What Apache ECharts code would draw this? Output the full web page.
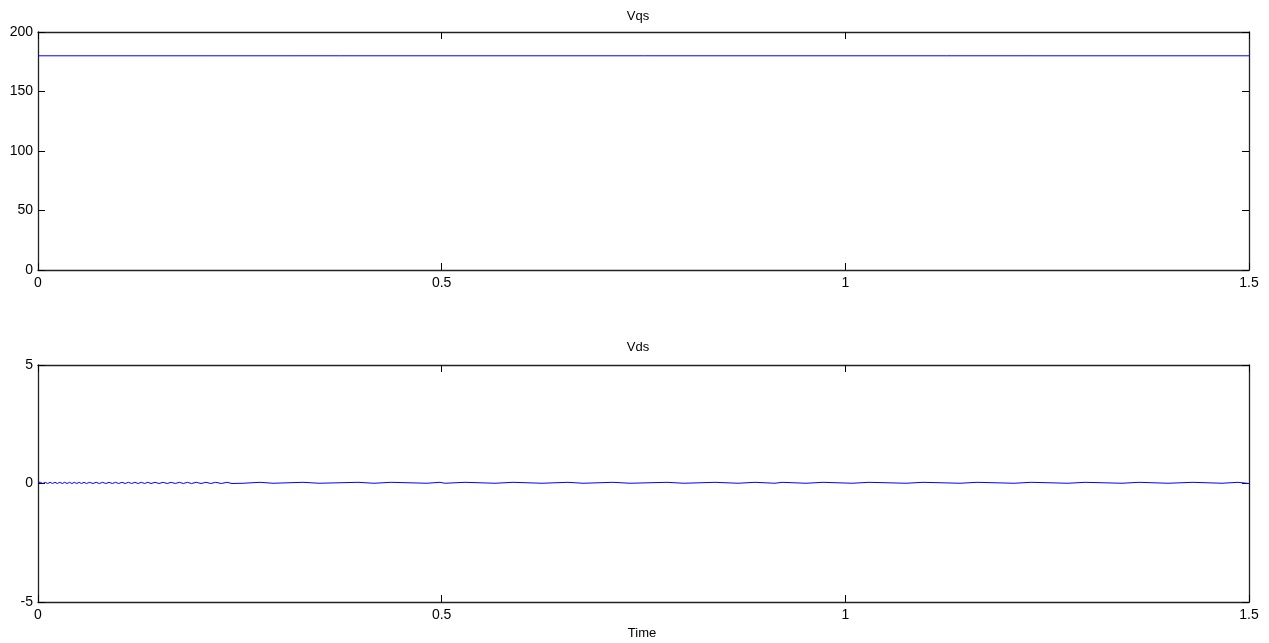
<!DOCTYPE html>
<html>
<head>
<meta charset="utf-8">
<script src="https://cdn.jsdelivr.net/npm/echarts@6/dist/echarts.min.js"></script>
<style>
html,body{margin:0;padding:0;background:#fff;}
#c{width:1269px;height:643px;}
</style>
</head>
<body>
<div id="c"></div>
<script>
// ---- data ----
var xTicks = [0, 0.5, 1, 1.5];
var vqsTime = [0, 1.5];
var vqsValue = [180, 180];

// early ripple of Vds (time, value)
var rippleTime = [0,0.003,0.006,0.009,0.012,0.015,0.018,0.021,0.024,0.027,0.030,0.033,0.036,0.039,0.042,0.045,0.048,0.051,0.054,0.057,
  0.060,0.064,0.068,0.072,0.076,0.080,0.084,0.088,0.092,0.096,0.100,0.104,0.108,0.112,0.116,0.120,0.124,0.128,0.132,0.136,
  0.140,0.145,0.150,0.155,0.160,0.165,0.170,0.175,0.180,0.185,0.190,0.196,0.202,0.208,0.214,0.220,0.227,0.234];
var rippleValue = [0.05,0.0,0.05,0.0,0.05,0.0,0.05,0.0,0.05,0.0,0.05,0.0,0.05,0.0,0.05,0.0,0.05,0.0,0.05,0.0,
  0.05,0.0,0.05,0.0,0.05,0.0,0.05,0.0,0.05,0.0,0.05,0.0,0.05,0.0,0.05,0.0,0.05,0.0,0.05,0.0,
  0.05,0.0,0.05,0.0,0.05,0.0,0.05,0.0,0.05,0.0,0.05,0.0,0.05,0.0,0.05,0.0,0.05,0.0];

// later slow switching of Vds (time, value)
var vdsTime = [0.2403,0.2539,0.2750,0.2911,0.3282,0.3481,0.3964,0.4162,0.4372,0.4818,0.4979,0.5041,0.5289,0.5661,0.5884,
  0.6243,0.6565,0.6751,0.7122,0.7333,0.7791,0.8002,0.8386,0.8671,0.8881,0.9129,0.9216,0.9513,0.9723,1.0083,1.0293,
  1.0752,1.0962,1.1420,1.1631,1.2089,1.2300,1.2758,1.2969,1.3427,1.3638,1.3997,1.4307,1.4666,1.4864,1.5];
var vdsValue = [0.01,0.05,0.01,0.05,0.01,0.05,0.01,0.05,0.01,0.05,0.01,0.05,0.01,0.05,0.01,
  0.05,0.01,0.05,0.01,0.05,0.01,0.05,0.01,0.05,0.01,0.05,0.01,0.05,0.01,0.05,0.01,
  0.05,0.01,0.05,0.01,0.05,0.01,0.05,0.01,0.05,0.01,0.05,0.01,0.05,0.0,0.0];

// ---- build ----
function pairs(t, v){ return t.map(function(x,i){ return [x, v[i]]; }); }
var vdsData = pairs(rippleTime, rippleValue).concat(pairs(vdsTime, vdsValue));

var FONT = 'Liberation Sans';
var axisLine = {show:true, onZero:false, lineStyle:{color:'#222', width:1.3}};
function xAx(grid, pos, labels){
  return {type:'value', gridIndex:grid, position:pos, min:0, max:1.5, interval:0.5,
    axisLine:axisLine, axisTick:{show:true, inside:true, length:7, lineStyle:{color:'#000'}},
    axisLabel:{show:labels, color:'#000', fontFamily:FONT, fontSize:14, margin:6,
      formatter:function(v){ return String(v); }},
    splitLine:{show:false}};
}
function yAx(grid, pos, labels, min, max, interval){
  return {type:'value', gridIndex:grid, position:pos, min:min, max:max, interval:interval,
    axisLine:axisLine, axisTick:{show:true, inside:true, length:7, lineStyle:{color:'#000'}},
    axisLabel:{show:labels, color:'#000', fontFamily:FONT, fontSize:14, margin:5},
    splitLine:{show:false}};
}

var chart = echarts.init(document.getElementById('c'), null, {renderer:'canvas'});
var ts = {fontFamily:FONT, fontSize:13, fontWeight:'normal', color:'#000'};
chart.setOption({
  animation:false,
  backgroundColor:'#fff',
  title:[
    {text:'Vqs', left:638, top:10, textAlign:'center', padding:0, textStyle:ts},
    {text:'Vds', left:638, top:341, textAlign:'center', padding:0, textStyle:ts},
    {text:'Time', left:642, top:627, textAlign:'center', padding:0, textStyle:ts}
  ],
  grid:[
    {left:38, right:20, top:32, height:238},
    {left:38, right:20, top:365, height:237}
  ],
  xAxis:[xAx(0,'bottom',true), xAx(0,'top',false), xAx(1,'bottom',true), xAx(1,'top',false)],
  yAxis:[yAx(0,'left',true,0,200,50), yAx(0,'right',false,0,200,50),
         yAx(1,'left',true,-5,5,5), yAx(1,'right',false,-5,5,5)],
  series:[
    {type:'line', xAxisIndex:0, yAxisIndex:0, data:pairs(vqsTime, vqsValue), showSymbol:false,
      lineStyle:{color:'#0000ff', width:1}},
    {type:'line', xAxisIndex:2, yAxisIndex:2, data:vdsData, step:'end', showSymbol:false,
      lineStyle:{color:'#0000ff', width:1}}
  ]
});
</script>
</body>
</html>
